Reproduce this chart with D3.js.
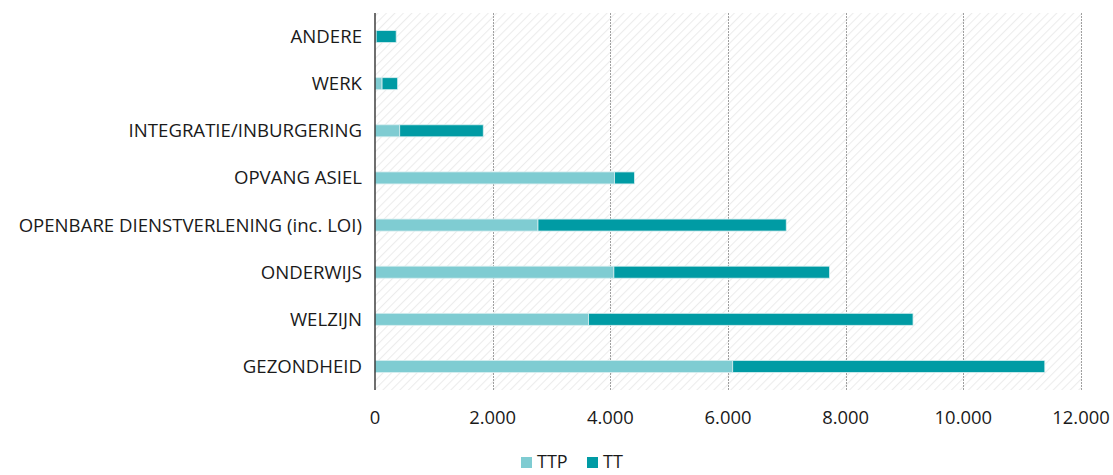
<!DOCTYPE html>
<html>
<head>
<meta charset="utf-8">
<script src="https://cdn.jsdelivr.net/npm/d3@7"></script>
<style>
  body { margin: 0; background: #fff; }
  text { font-family: "Open Sans", sans-serif; fill: #1a1a1a; }
</style>
</head>
<body>
<svg id="chart" width="1113" height="475"></svg>
<script>
const categories = ["ANDERE", "WERK", "INTEGRATIE/INBURGERING", "OPVANG ASIEL",
  "OPENBARE DIENSTVERLENING (inc. LOI)", "ONDERWIJS", "WELZIJN", "GEZONDHEID"];
const ttp = [20, 120, 420, 4070, 2770, 4060, 3630, 6080];
const tt = [340, 265, 1420, 340, 4220, 3665, 5515, 5305];
const seriesNames = ["TTP", "TT"];
const xTicks = [0, 2000, 4000, 6000, 8000, 10000, 12000];
const colors = ["#7fccd2", "#009ba4"];

const svg = d3.select("#chart");
const margin = { left: 375, right: 32, top: 13, bottom: 85 };
const width = 1113, height = 475;

const x = d3.scaleLinear().domain([0, 12000]).range([margin.left, width - margin.right]);
const y = d3.scaleBand().domain(categories).range([margin.top, height - margin.bottom]);

// ---------------- hatched background
const defs = svg.append("defs");
const pat = defs.append("pattern")
  .attr("id", "hatch")
  .attr("patternUnits", "userSpaceOnUse")
  .attr("width", 6).attr("height", 6)
  .attr("patternTransform", "rotate(45)");
pat.append("line")
  .attr("x1", 0).attr("y1", 0).attr("x2", 0).attr("y2", 6)
  .attr("stroke", "#ececec").attr("stroke-width", 2.2);

svg.append("rect")
  .attr("x", x(0)).attr("y", margin.top)
  .attr("width", x(12000) - x(0)).attr("height", height - margin.bottom - margin.top)
  .attr("fill", "url(#hatch)");

// ---------------- gridlines
svg.append("g")
  .selectAll("line")
  .data(xTicks.slice(1))
  .join("line")
  .attr("x1", d => Math.round(x(d)) + 0.5).attr("x2", d => Math.round(x(d)) + 0.5)
  .attr("y1", margin.top).attr("y2", height - margin.bottom)
  .attr("stroke", "#a0a0a0")
  .attr("stroke-dasharray", "2,1");

// ---------------- bars
const stack = d3.stack().keys([0, 1]).value((d, k) => d[k]);
const rows = categories.map((c, i) => { const r = [ttp[i], tt[i]]; r.cat = c; return r; });
const layers = stack(rows);
const barH = 12;

svg.append("g")
  .selectAll("g")
  .data(layers)
  .join("g")
  .attr("fill", (_, i) => colors[i])
  .selectAll("rect")
  .data(d => d)
  .join("rect")
  .attr("x", d => x(d[0]))
  .attr("y", d => y(d.data.cat) + y.bandwidth() / 2 - barH / 2)
  .attr("width", d => x(d[1]) - x(d[0]))
  .attr("height", barH)
  .attr("stroke", "#d8eef0")
  .attr("stroke-width", 0.8);

// ---------------- y axis line + labels
svg.append("line")
  .attr("x1", x(0)).attr("x2", x(0))
  .attr("y1", margin.top).attr("y2", height - margin.bottom)
  .attr("stroke", "#222").attr("stroke-width", 1.3);

svg.append("g")
  .selectAll("text")
  .data(categories)
  .join("text")
  .attr("x", 362)
  .attr("y", d => y(d) + y.bandwidth() / 2)
  .attr("dy", "0.35em")
  .attr("text-anchor", "end")
  .style("font-size", "18.6px")
  .text(d => d);

// ---------------- x tick labels
const fmt = d3.formatLocale({ decimal: ",", thousands: ".", grouping: [3], currency: ["€", ""] }).format(",");
svg.append("g")
  .selectAll("text")
  .data(xTicks)
  .join("text")
  .attr("x", d => x(d))
  .attr("y", 418)
  .attr("dy", "0.35em")
  .attr("text-anchor", "middle")
  .style("font-size", "18.4px")
  .text(d => fmt(d));

// ---------------- legend
const legend = svg.append("g").attr("transform", "translate(521,462)");
const lx = [0, 66];
seriesNames.forEach((s, i) => {
  const g = legend.append("g").attr("transform", `translate(${lx[i]},0)`);
  g.append("rect").attr("x", 0).attr("y", -5).attr("width", 11).attr("height", 11).attr("fill", colors[i]);
  g.append("text").attr("x", 16).attr("y", 0).attr("dy", "0.35em").style("font-size", "18px").text(s);
});
</script>
</body>
</html>
